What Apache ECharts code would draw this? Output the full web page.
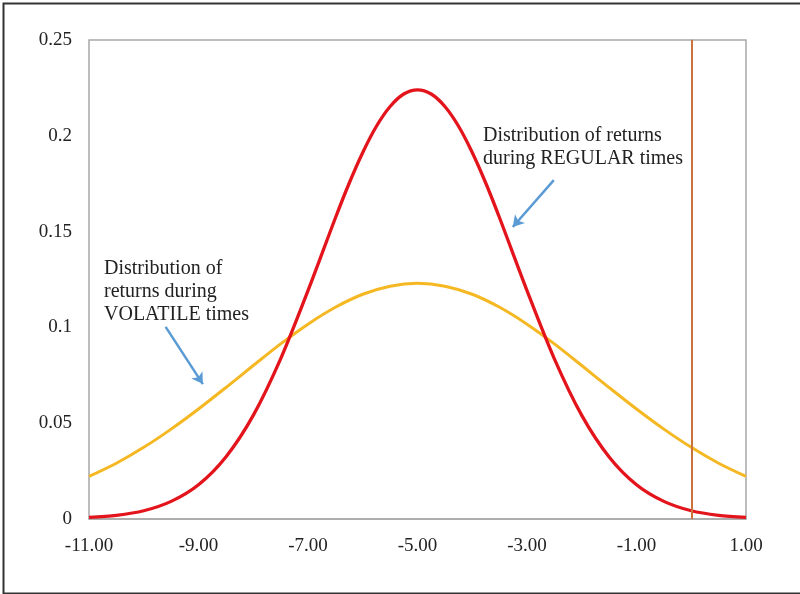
<!DOCTYPE html>
<html>
<head>
<meta charset="utf-8">
<script src="https://cdn.jsdelivr.net/npm/echarts@6/dist/echarts.min.js"></script>
<style>
html,body{margin:0;padding:0;background:#fff;}
#chart{width:800px;height:594px;}
</style>
</head>
<body>
<div id="chart"></div>
<script>
// Data
const volatileX = [-11, -10.5, -10, -9.5, -9, -8.5, -8, -7.5, -7, -6.5, -6, -5.5, -5,
                   -4.5, -4, -3.5, -3, -2.5, -2, -1.5, -1, -0.5, 0, 0.5, 1];
const volatileValues = [0.0222, 0.0291, 0.0374, 0.0469, 0.0574, 0.0686, 0.0801, 0.0914, 0.1017, 0.1105, 0.1173, 0.1215, 0.123,
                        0.1215, 0.1173, 0.1105, 0.1017, 0.0914, 0.0801, 0.0686, 0.0574, 0.0469, 0.0374, 0.0291, 0.0222];
const regularX = [-11, -10.5, -10, -9.5, -9, -8.5, -8, -7.5, -7, -6.5, -6.25, -6, -5.75, -5.5, -5.25, -5,
                  -4.75, -4.5, -4.25, -4, -3.75, -3.5, -3, -2.5, -2, -1.5, -1, -0.5, 0, 0.5, 1];
const regularValues = [0.0008, 0.0019, 0.0043, 0.0092, 0.0179, 0.0324, 0.0541, 0.0836, 0.1192, 0.1571, 0.1751, 0.1913, 0.2050, 0.2153, 0.2218, 0.224,
                       0.2218, 0.2153, 0.2050, 0.1913, 0.1751, 0.1571, 0.1192, 0.0836, 0.0541, 0.0324, 0.0179, 0.0092, 0.0043, 0.0019, 0.0008];
const xTicks = [-11, -9, -7, -5, -3, -1, 1];
const yTicks = [0, 0.05, 0.1, 0.15, 0.2, 0.25];
const thresholdX = 0;
const regularArrow = [[-2.51, 0.1769], [-3.26, 0.1524]];
const volatileArrow = [[-9.60, 0.1003], [-8.92, 0.0704]];
const regularText = 'Distribution of returns\nduring REGULAR times';
const volatileText = 'Distribution of\nreturns during\nVOLATILE times';

const toPairs = (xs, ys) => xs.map((x, i) => [x, ys[i]]);
const serif = '"Liberation Serif", "DejaVu Serif", serif';

const chart = echarts.init(document.getElementById('chart'), null, {renderer: 'canvas'});
chart.setOption({
  animation: false,
  backgroundColor: '#fff',
  grid: {left: 89, right: 54, top: 40, bottom: 75, show: true, borderColor: '#a8a8a8', borderWidth: 1.5, containLabel: false},
  xAxis: {
    type: 'value', min: -11, max: 1, interval: 2,
    axisLine: {show: true, lineStyle: {color: '#a8a8a8', width: 1.5}},
    axisTick: {show: false},
    splitLine: {show: false},
    axisLabel: {
      color: '#222', fontFamily: serif, fontSize: 19, margin: 18,
      formatter: (v) => xTicks.includes(v) ? v.toFixed(2) : ''
    }
  },
  yAxis: {
    type: 'value', min: 0, max: 0.25, interval: 0.05,
    axisLine: {show: true, lineStyle: {color: '#a8a8a8', width: 1.5}},
    axisTick: {show: false},
    splitLine: {show: false},
    axisLabel: {
      color: '#222', fontFamily: serif, fontSize: 19, margin: 17,
      formatter: (v) => {
        const t = yTicks.find(k => Math.abs(k - v) < 1e-9);
        return t === undefined ? '' : String(t);
      }
    }
  },
  series: [
    {
      name: 'volatile', type: 'line', data: toPairs(volatileX, volatileValues), smooth: 0.3,
      showSymbol: false, lineStyle: {color: '#f5b823', width: 3}, z: 2
    },
    {
      name: 'regular', type: 'line', data: toPairs(regularX, regularValues), smooth: 0.3,
      showSymbol: false, lineStyle: {color: '#e3141b', width: 3.3}, z: 3,
      markLine: {
        silent: true, symbol: 'none', animation: false,
        label: {show: false},
        lineStyle: {color: '#c9733a', width: 2, type: 'solid'},
        data: [{xAxis: thresholdX}]
      }
    },
    {
      name: 'arrows', type: 'line', data: [], z: 4,
      markLine: {
        silent: true, symbol: ['none', 'arrow'], symbolSize: [10, 11], animation: false,
        label: {show: false},
        lineStyle: {color: '#5b9bd5', width: 2.5, type: 'solid'},
        data: [
          [{coord: regularArrow[0]}, {coord: regularArrow[1]}],
          [{coord: volatileArrow[0]}, {coord: volatileArrow[1]}]
        ]
      }
    }
  ],
  graphic: [
    {type: 'rect', left: 1, top: 1, shape: {width: 820, height: 590},
     style: {fill: 'none', stroke: '#333', lineWidth: 2}, silent: true, z: 10},
    {type: 'text', left: 483, top: 124,
     style: {text: regularText, fill: '#222', font: '20px ' + serif, lineHeight: 23}, z: 10},
    {type: 'text', left: 104, top: 257,
     style: {text: volatileText, fill: '#222', font: '20px ' + serif, lineHeight: 23}, z: 10}
  ]
});
</script>
</body>
</html>
